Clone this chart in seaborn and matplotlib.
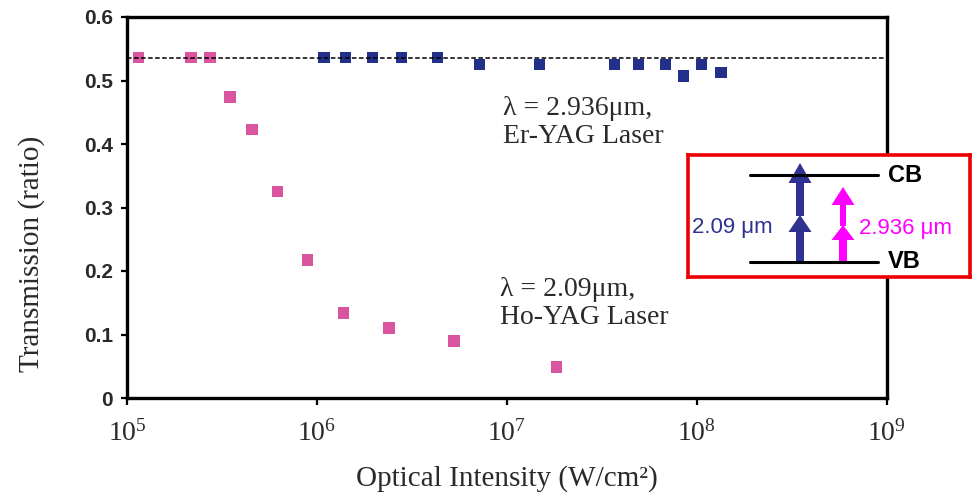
import numpy as np
import pandas as pd
import matplotlib
matplotlib.use("Agg")
import matplotlib.pyplot as plt
from matplotlib.patches import FancyArrow
from matplotlib.ticker import FixedLocator, NullLocator, FixedFormatter
import seaborn as sns

# ---- data ----
ho_intensity = [1.15e5, 2.17e5, 2.74e5, 3.49e5, 4.54e5, 6.18e5, 8.9e5, 1.38e6, 2.39e6, 5.28e6, 1.82e7]
ho_transmission = [0.536, 0.536, 0.536, 0.474, 0.423, 0.325, 0.217, 0.134, 0.110, 0.090, 0.049]
er_intensity = [1.09e6, 1.41e6, 1.96e6, 2.79e6, 4.31e6, 7.18e6, 1.49e7, 3.68e7, 4.92e7,
                6.83e7, 8.53e7, 1.06e8, 1.34e8]
er_transmission = [0.536, 0.536, 0.536, 0.536, 0.536, 0.525, 0.525, 0.525, 0.525,
                   0.525, 0.507, 0.525, 0.513]
linear_level = 0.536
x_ticks = [1e5, 1e6, 1e7, 1e8, 1e9]
x_tick_labels = [r"$\mathdefault{10^{5}}$", r"$\mathdefault{10^{6}}$", r"$\mathdefault{10^{7}}$",
                 r"$\mathdefault{10^{8}}$", r"$\mathdefault{10^{9}}$"]
y_ticks = [0, 0.1, 0.2, 0.3, 0.4, 0.5, 0.6]
y_tick_labels = ["0", "0.1", "0.2", "0.3", "0.4", "0.5", "0.6"]

df = pd.DataFrame({
    "intensity": ho_intensity + er_intensity,
    "transmission": ho_transmission + er_transmission,
    "laser": ["Ho-YAG"] * len(ho_intensity) + ["Er-YAG"] * len(er_intensity),
})

sns.set_style("ticks")
plt.rcParams["font.family"] = ["Liberation Serif", "DejaVu Sans"]
plt.rcParams["mathtext.fontset"] = "custom"
plt.rcParams["mathtext.rm"] = "Liberation Serif"

PINK = "#d9559f"
NAVY = "#22308a"
BLUE_T = "#2e3192"
MAGENTA = "#ff00ff"
TXT = "#2a2a2a"

fig = plt.figure(figsize=(9.76, 4.97), dpi=100)
ax = fig.add_axes([127 / 976, 1 - 398 / 497, (886.7 - 127) / 976, (398 - 17) / 497])

sns.scatterplot(data=df, x="intensity", y="transmission", hue="laser",
                palette={"Ho-YAG": PINK, "Er-YAG": NAVY}, marker="s", s=68,
                linewidth=0, legend=False, ax=ax, zorder=2)
ax.axhline(linear_level, color="black", lw=1.1, ls=(0, (3, 1.6)), zorder=3)

ax.set_xscale("log")
ax.set_xlim(1e5, 1e9)
ax.set_ylim(0, 0.6)
ax.xaxis.set_major_locator(FixedLocator(x_ticks))
ax.xaxis.set_major_formatter(FixedFormatter(x_tick_labels))
ax.xaxis.set_minor_locator(NullLocator())
ax.set_yticks(y_ticks)
ax.set_yticklabels(y_tick_labels)

for sp in ax.spines.values():
    sp.set_visible(True)
    sp.set_color("black")
    sp.set_linewidth(2.4)

ax.tick_params(axis="y", direction="out", length=4, width=1.6, pad=6, colors="black")
ax.tick_params(axis="x", direction="out", length=5, width=1.6, pad=11, colors="black")
for lab in ax.get_yticklabels():
    lab.set_fontfamily(["Liberation Sans", "DejaVu Sans"])
    lab.set_fontweight("bold")
    lab.set_fontsize(15)
    lab.set_color(TXT)
for lab in ax.get_xticklabels():
    lab.set_fontsize(20)
    lab.set_color(TXT)

ax.set_xlabel("Optical Intensity (W/cm²)", fontsize=21, color=TXT)
ax.set_ylabel("Transmission (ratio)", fontsize=21, color=TXT)
ax.xaxis.set_label_coords(0.5, -0.175)
ax.yaxis.set_label_coords(-0.108, 0.378)

ax.text(9.6e6, 0.434, "λ = 2.936μm,\nEr-YAG Laser", fontsize=20, color=TXT,
        ha="left", va="center", linespacing=1.15)
ax.text(9.2e6, 0.149, "λ = 2.09μm,\nHo-YAG Laser", fontsize=20, color=TXT,
        ha="left", va="center", linespacing=1.15)

# ---- inset energy-band diagram (pixel-like coordinates) ----
x0, x1, y0, y1 = 688, 970, 155, 277
ins = fig.add_axes([x0 / 976, 1 - y1 / 497, (x1 - x0) / 976, (y1 - y0) / 497])
ins.set_xlim(x0, x1)
ins.set_ylim(y1, y0)
ins.set_xticks([])
ins.set_yticks([])
ins.set_facecolor("white")
for sp in ins.spines.values():
    sp.set_color("#ee0000")
    sp.set_linewidth(2.6)

ins.plot([750, 878], [175, 175], color="black", lw=2.2)
ins.plot([750, 878], [262, 262], color="black", lw=2.2)
sans = ["Liberation Sans", "DejaVu Sans"]
ins.text(888, 176, "CB", fontsize=17, fontweight="bold", family=sans, ha="left", va="center", color="black")
ins.text(888, 262, "VB", fontsize=17, fontweight="bold", family=sans, ha="left", va="center", color="black")

# blue (2.09 um) two-photon arrows
ins.add_patch(FancyArrow(800, 263, 0, -48, width=8, head_width=23, head_length=17,
                         length_includes_head=True, color=BLUE_T, lw=0))
ins.add_patch(FancyArrow(800, 216, 0, -53, width=8, head_width=23, head_length=20,
                         length_includes_head=True, color=BLUE_T, lw=0))
# magenta (2.936 um) arrows
ins.add_patch(FancyArrow(843, 263, 0, -38, width=8, head_width=23, head_length=15,
                         length_includes_head=True, color=MAGENTA, lw=0))
ins.add_patch(FancyArrow(843, 226, 0, -39, width=6, head_width=23, head_length=18,
                         length_includes_head=True, color=MAGENTA, lw=0))

ins.text(692, 228, "2.09 μm", fontsize=16, family=sans, color=BLUE_T, ha="left", va="center")
ins.text(859, 229, "2.936 μm", fontsize=16, family=sans, color=MAGENTA, ha="left", va="center")

fig.savefig("out.png", dpi=100)
